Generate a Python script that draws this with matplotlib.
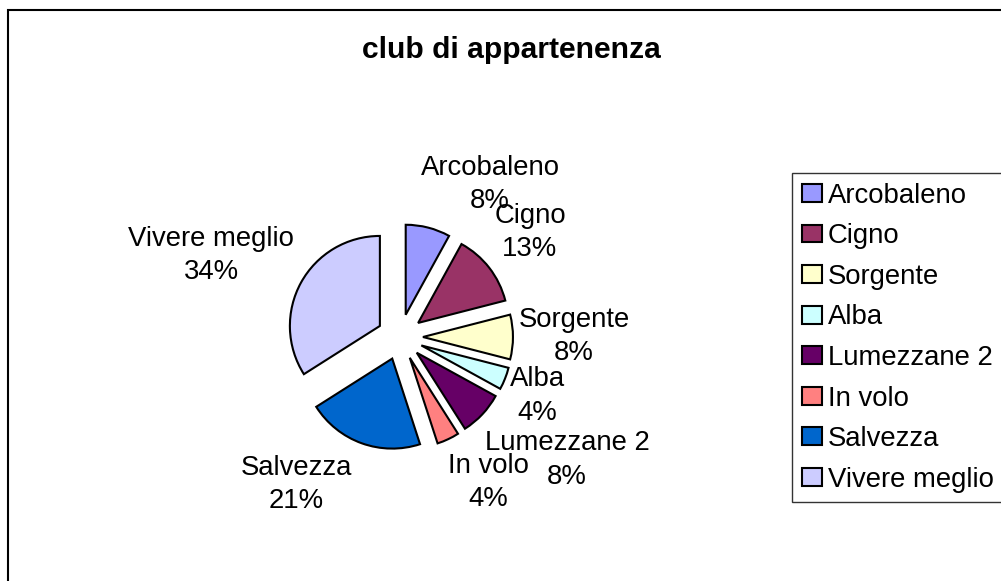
import matplotlib
matplotlib.use("Agg")
import matplotlib.pyplot as plt
from matplotlib.patches import Rectangle

# ---- data ----
categories = ["Arcobaleno", "Cigno", "Sorgente", "Alba", "Lumezzane 2",
              "In volo", "Salvezza", "Vivere meglio"]
shares = [8, 13, 8, 4, 8, 4, 21, 34]
colors = ["#9999FF", "#993366", "#FFFFCC", "#CCFFFF", "#660066",
          "#FF8080", "#0066CC", "#CCCCFF"]
title = "club di appartenenza"

# ---- layout (pixels) ----
W, H, DPI = 1001, 581, 100
CX, CY, R = 400, 337, 90          # pie centre & radius in pixels (y from top)
label_px = [(490, 184.5), (530, 232.5), (574, 336.5), (537, 396),
            (567, 460), (488, 482.5), (296, 484.5), (211, 255.5)]

plt.rcParams['font.family'] = ['Liberation Sans', 'DejaVu Sans']
FS = 19.8

fig = plt.figure(figsize=(W / DPI, H / DPI), dpi=DPI)
ax = fig.add_axes([0, 0, 1, 1])

wedges, _ = ax.pie(shares, colors=colors, explode=[0.255] * len(shares),
                   startangle=90, counterclock=False, radius=1,
                   wedgeprops=dict(edgecolor="black", linewidth=1.5))
ax.set_aspect('auto')
ax.set_xlim(-CX / R, (W - CX) / R)
ax.set_ylim((CY - H) / R, CY / R)
ax.axis('off')

total = sum(shares)
for name, v, (px, py) in zip(categories, shares, label_px):
    ax.text((px - CX) / R, (CY - py) / R, f"{name}\n{round(v / total * 100)}%",
            ha='center', va='center', fontsize=FS, linespacing=1.37,
            multialignment='center')

fig.text(511 / W, 1 - 50 / H, title, ha='center', va='center',
         fontsize=21.6, fontweight='bold')

leg = fig.legend(wedges, categories, loc='upper left',
                 bbox_to_anchor=(792 / W, 1 - 173 / H), borderaxespad=0,
                 fontsize=FS, frameon=True, fancybox=False, shadow=False,
                 handlelength=0.73, handleheight=0.62, handletextpad=0.22,
                 labelspacing=0.53, borderpad=0.35)
leg.get_frame().set_edgecolor('black')
leg.get_frame().set_linewidth(1.0)
for h in leg.legend_handles:
    h.set_linewidth(1.5)
    h.set_edgecolor('black')

fig.patches.append(Rectangle((8, -10), 1100, H, transform=None, fill=False,
                             edgecolor='black', linewidth=1.5))

fig.savefig("out.png", dpi=DPI)
